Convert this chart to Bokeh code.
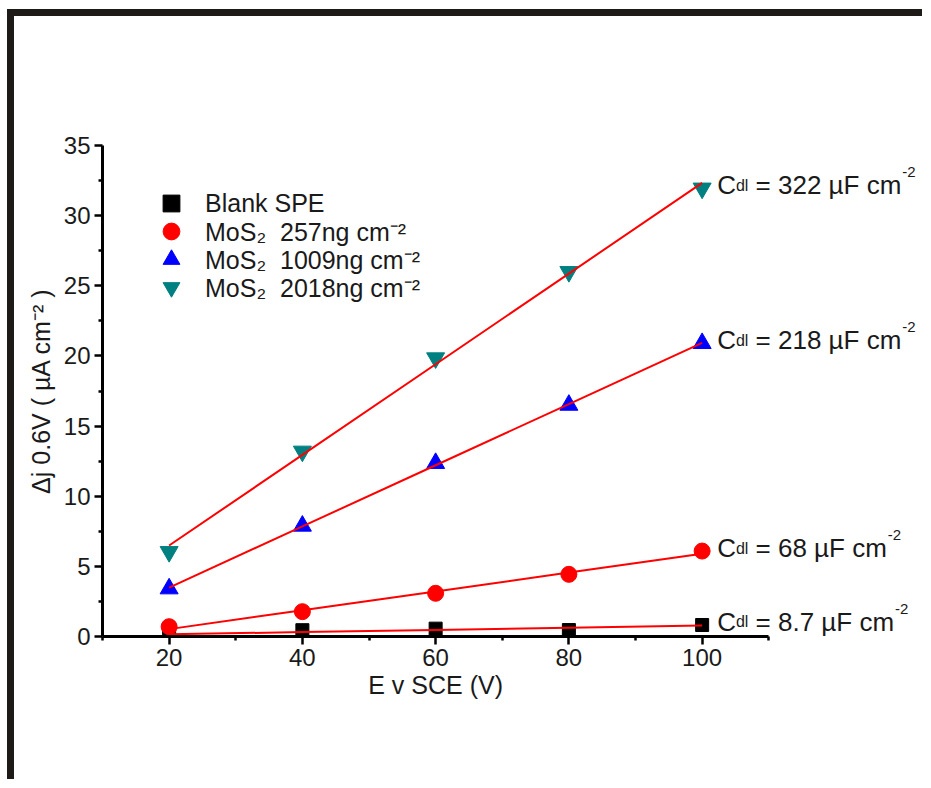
import numpy as np
from bokeh.plotting import figure
from bokeh.models import Range1d, FixedTicker, Label, Legend, LegendItem, Title
from bokeh.embed import file_html
from bokeh.resources import INLINE

# scan rate (x) and current density difference for each electrode
potential = [20, 40, 60, 80, 100]
blank_spe = [0.05, 0.45, 0.56, 0.46, 0.82]
mos2_257 = [0.70, 1.77, 3.08, 4.43, 6.09]
mos2_1009 = [3.41, 7.88, 12.35, 16.50, 20.90]
mos2_2018 = [6.04, 13.20, 19.85, 26.00, 31.95]

series_names = ["Blank SPE", "MoS\u2082  257ng cm\u207b\u00b2",
                "MoS\u2082  1009ng cm\u207b\u00b2", "MoS\u2082  2018ng cm\u207b\u00b2"]
cdl_values = ["8.7", "68", "218", "322"]

x_ticks = [20, 40, 60, 80, 100]
x_minor = [10, 30, 50, 70, 90, 110]
y_ticks = [0, 5, 10, 15, 20, 25, 30, 35]
y_minor = [2.5, 7.5, 12.5, 17.5, 22.5, 27.5, 32.5]
x_title = "E v SCE (V)"

FONT = "Liberation Sans"
TXT = "#1a1a1a"

# layout (pixels)
W, H = 915, 770
LEFT, RIGHT, TOP, BOTTOM = 88, 2, 129, 150
frame_w = W - LEFT - RIGHT
frame_h = H - TOP - BOTTOM
px_per_unit = 533 / 80.0            # x axis scale of the original
x_end = 10 + frame_w / px_per_unit  # frame runs on past the axis so the labels fit

# Arial-like advance widths, used to place text pieces
AW = {c: 0.556 for c in "0123456789"}
AW.update({".": 0.278, " ": 0.278, "=": 0.584, "\u00b5": 0.576, "F": 0.611,
           "c": 0.5, "m": 0.833, "C": 0.722, "d": 0.556, "l": 0.222,
           "E": 0.667, "v": 0.5, "S": 0.667, "(": 0.333, ")": 0.333, "V": 0.667})


def tw(s, size):
    return sum(AW[ch] for ch in s) * size


p = figure(width=W, height=H, x_range=Range1d(10, x_end), y_range=Range1d(0, 35),
           output_backend="svg", toolbar_location=None,
           min_border_left=LEFT, min_border_right=RIGHT, min_border_top=TOP, min_border_bottom=BOTTOM)
p.styles = {"border-top": "7px solid #1e1a17", "border-left": "7px solid #1e1a17",
            "margin-top": "9px", "margin-left": "7px"}
p.xgrid.visible = False
p.ygrid.visible = False
p.outline_line_color = None

p.xaxis.ticker = FixedTicker(ticks=x_ticks, minor_ticks=x_minor)
p.yaxis.ticker = FixedTicker(ticks=y_ticks, minor_ticks=y_minor)
p.xaxis.bounds = (10, 110)
p.yaxis.axis_label = "\u0394j 0.6V ( \u00b5A cm\u207b\u00b2 )"
for ax in (p.xaxis[0], p.yaxis[0]):
    ax.axis_line_width = 3
    ax.major_tick_line_width = 2.5
    ax.minor_tick_line_width = 2.5
    ax.major_tick_in = 0
    ax.major_tick_out = 8
    ax.minor_tick_in = 0
    ax.minor_tick_out = 4
    ax.major_label_text_font = FONT
    ax.major_label_text_font_size = "24px"
    ax.major_label_text_color = TXT
    ax.major_label_standoff = 4
    ax.axis_label_text_font = FONT
    ax.axis_label_text_font_size = "25px"
    ax.axis_label_text_font_style = "normal"
    ax.axis_label_text_color = TXT
    ax.axis_label_standoff = 6

# x axis title centred under the bounded axis (10..110), not under the wider frame
xlabel = Title(text=x_title, align="left",
               offset=(60 - 10) * px_per_unit - tw(x_title, 25) / 2,
               standoff=0, text_font=FONT, text_font_size="25px", text_font_style="normal",
               text_color=TXT)
p.add_layout(xlabel, "below")

all_series = [blank_spe, mos2_257, mos2_1009, mos2_2018]
markers = ["square", "circle", "triangle", "inverted_triangle"]
colors = ["black", "red", "blue", "#008080"]
sizes = [13, 16, 18, 18]

renderers = []
for ys, mk, c, s in zip(all_series, markers, colors, sizes):
    renderers.append(p.scatter(potential, ys, marker=mk, size=s, color=c))

for ys in all_series:
    fit = np.polyval(np.polyfit(potential, ys, 1), potential)
    p.line(potential, fit, line_color="red", line_width=2)

# one legend per row, so the rows can sit closer than the (large) glyph boxes
row_top = 203 - 145   # first legend row centre below the frame top
row_pitch = 28
for i, (n, r) in enumerate(zip(series_names, renderers)):
    centre = row_top + i * row_pitch
    lg = Legend(items=[LegendItem(label=n, renderers=[r])],
                location=(48, frame_h - centre - 21), padding=0, margin=0,
                glyph_width=42, glyph_height=42, label_standoff=13,
                label_text_font=FONT, label_text_font_size="25px", label_text_color=TXT,
                border_line_color=None, background_fill_alpha=0)
    p.add_layout(lg)

for ys, v in zip(all_series, cdl_values):
    main = "= %s \u00b5F cm" % v
    x0 = 15
    x1 = x0 + tw("C", 26)
    x2 = x1 + tw("dl", 16) + tw(" ", 26)
    x3 = x2 + tw(main, 26) + 1
    pieces = [("C", x0, 3, 26), ("dl", x1, 3, 16), (main, x2, 3, 26), ("-2", x3, 16, 15)]
    for txt, xo, yo, fs in pieces:
        p.add_layout(Label(x=potential[-1], y=ys[-1], x_offset=xo, y_offset=yo, text=txt,
                           text_font=FONT, text_font_size="%dpx" % fs, text_color=TXT,
                           text_baseline="alphabetic", text_align="left"))

open("out.html", "w").write(file_html(p, INLINE))
